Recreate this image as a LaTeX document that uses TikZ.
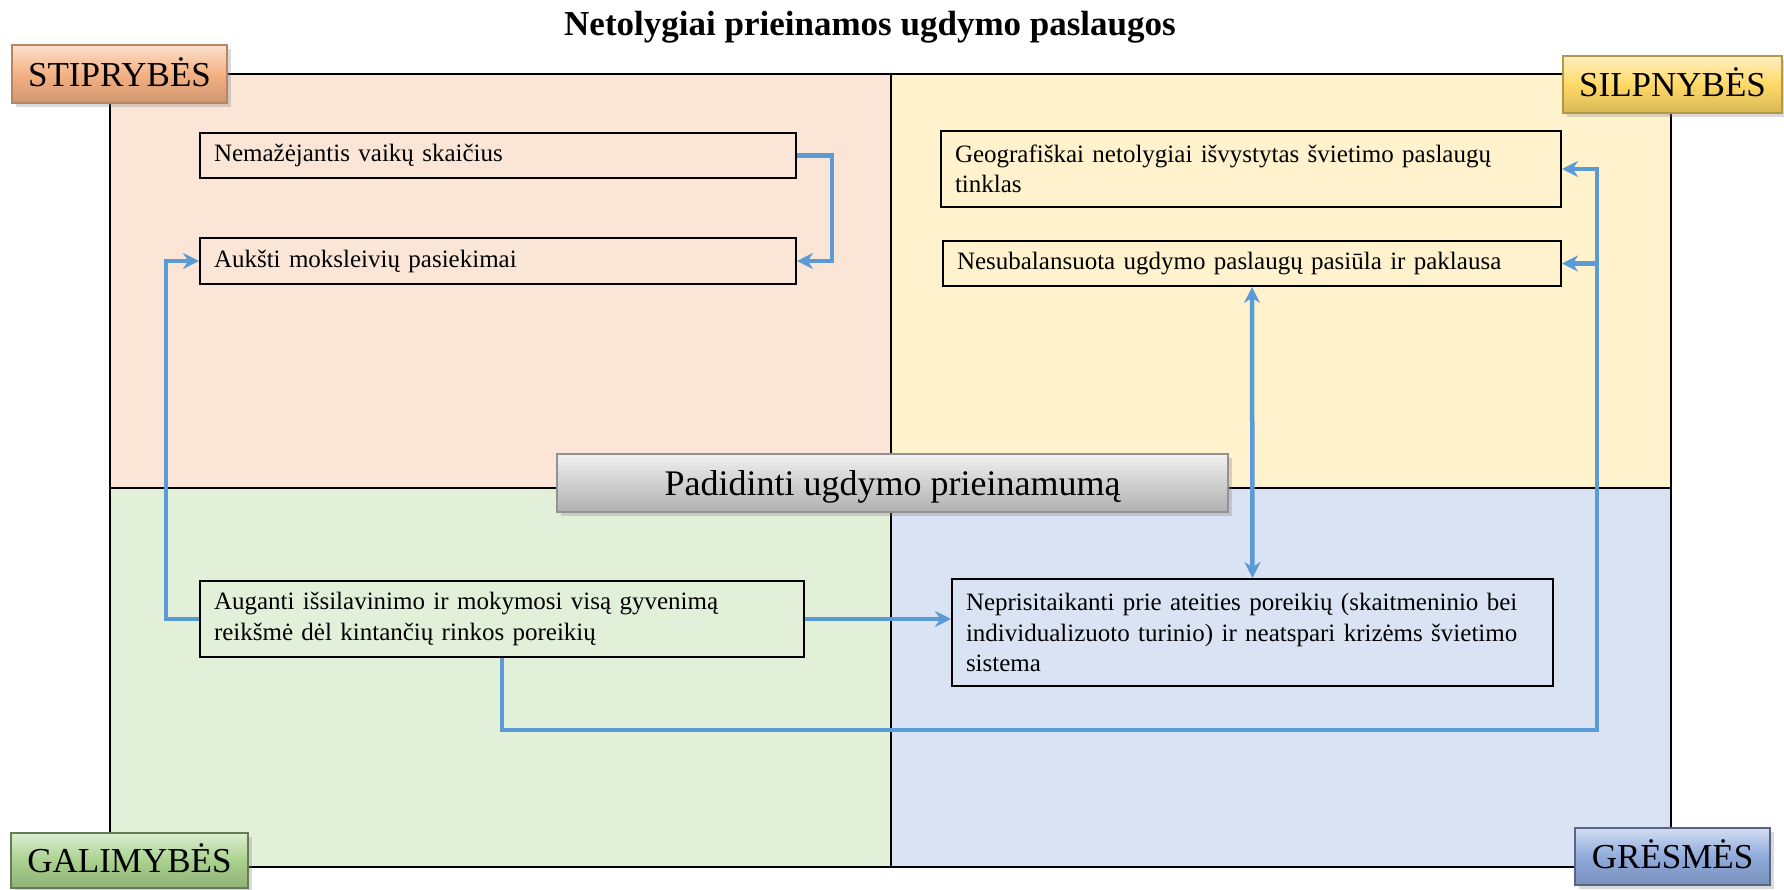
\documentclass[tikz,border=0pt]{standalone}
\usepackage{fontspec}
\setmainfont{Liberation Serif}
\usetikzlibrary{arrows.meta,shadows}

\begin{document}
\begin{tikzpicture}[x = 1pt, y = -1pt,
  item/.style = {draw = black, line width = 2pt, anchor = north west, align = left, inner xsep = 14pt, inner ysep = 0pt, font = \fontsize{25}{30.5}\selectfont},
  tag/.style = {draw = #1, line width = 1.5pt, inner sep = 0pt, text height = 24pt, text depth = 0pt, font = \fontsize{35}{40}\selectfont, drop shadow = {shadow xshift = 4pt, shadow yshift = -4pt, opacity = 0.3}},
  link/.style = {draw = linkblue, line width = 4.5pt, -{Stealth[length = 16pt, width = 16pt]}}]
\pgfmathsetmacro\lx{110};
\pgfmathsetmacro\mx{891};
\pgfmathsetmacro\rx{1671};
\pgfmathsetmacro\ty{74};
\pgfmathsetmacro\my{488};
\pgfmathsetmacro\by{867};
\definecolor{linkblue}{HTML}{5B9BD5}
\useasboundingbox (0,0) rectangle (1784,889);
\node[font = \bfseries\fontsize{35}{40}\selectfont, anchor = base] (title) at (870,35) {Netolygiai prieinamos ugdymo paslaugos};
\foreach \xa/\xb/\ya/\yb/\c in {\lx/\mx/\ty/\my/FBE5D6, \mx/\rx/\ty/\my/FFF2CC, \lx/\mx/\my/\by/E2F0D9, \mx/\rx/\my/\by/DAE3F3} {
  \definecolor{quad}{HTML}{\c}
  \fill [quad] (\xa,\ya) rectangle (\xb,\yb);
}
\draw [line width = 2pt] (\lx,\ty) rectangle (\rx,\by);
\draw [line width = 2pt] (\mx,\ty) -- (\mx,\by);
\draw [line width = 2pt] (\lx,\my) -- (\rx,\my);
\node[item, text width = 568pt, minimum height = 45pt] (nemaz) at (199,132) {Nemažėjantis vaikų skaičius};
\node[item, text width = 568pt, minimum height = 46pt] (auksti) at (199,237) {Aukšti moksleivių pasiekimai};
\node[item, text width = 592pt, minimum height = 76pt] (geogr) at (940,130) {Geografiškai netolygiai išvystytas švietimo paslaugų\\ tinklas};
\node[item, text width = 590pt, minimum height = 45pt] (nesub) at (942,240) {Nesubalansuota ugdymo paslaugų pasiūla ir paklausa};
\node[item, text width = 576pt, minimum height = 76pt] (augan) at (199,580) {Auganti išsilavinimo ir mokymosi visą gyvenimą\\ reikšmė dėl kintančių rinkos poreikių};
\node[item, text width = 573pt, minimum height = 107pt] (nepris) at (951,578) {Neprisitaikanti prie ateities poreikių (skaitmeninio bei\\ individualizuoto turinio) ir neatspari krizėms švietimo\\ sistema};
\coordinate (turn) at (1597,730);
\draw [link] (nemaz.east) -- ++(35,0) |- (auksti.east);
\draw [link] (augan.west) -- ++(-33,0) |- (auksti.west);
\draw [link] (augan.east) -- (augan.east -| nepris.west);
\draw [link, {Stealth[length = 16pt, width = 16pt]}-{Stealth[length = 16pt, width = 16pt]}] (nesub.south) -- (nepris.north);
\draw [link] (augan.south) |- (turn) |- (nesub.east);
\draw [link] (turn |- nesub.east) |- (geogr.east);
\definecolor{mycolor}{HTML}{F4B183}
\node[tag = mycolor!75!black, top color = mycolor!40!white, bottom color = mycolor!85!black, middle color = mycolor, minimum width = 215pt, minimum height = 58pt] (stipr) at (119.5,74) {STIPRYBĖS};
\definecolor{mycolor}{HTML}{FFD966}
\node[tag = mycolor!70!black, top color = mycolor!40!white, bottom color = mycolor!85!black, middle color = mycolor, minimum width = 219pt, minimum height = 57pt] (silpn) at (1672.5,84.5) {SILPNYBĖS};
\definecolor{mycolor}{HTML}{A9D18E}
\node[tag = mycolor!60!black, top color = mycolor!40!white, bottom color = mycolor!85!black, middle color = mycolor, minimum width = 237pt, minimum height = 55pt] (galim) at (129.5,860.5) {GALIMYBĖS};
\definecolor{mycolor}{HTML}{8FAADC}
\node[tag = mycolor!60!black, top color = mycolor!40!white, bottom color = mycolor!85!black, middle color = mycolor, minimum width = 195pt, minimum height = 57pt] (gresm) at (1672.5,856.5) {GRĖSMĖS};
\definecolor{mycolor}{HTML}{D0D0D0}
\node[tag = mycolor!70!black, top color = mycolor!30!white, bottom color = mycolor!85!black, middle color = mycolor, minimum width = 671pt, minimum height = 58pt, font = \fontsize{36}{40}\selectfont] (tikslas) at (892.5,483) {Padidinti ugdymo prieinamumą};
\end{tikzpicture}
\end{document}
